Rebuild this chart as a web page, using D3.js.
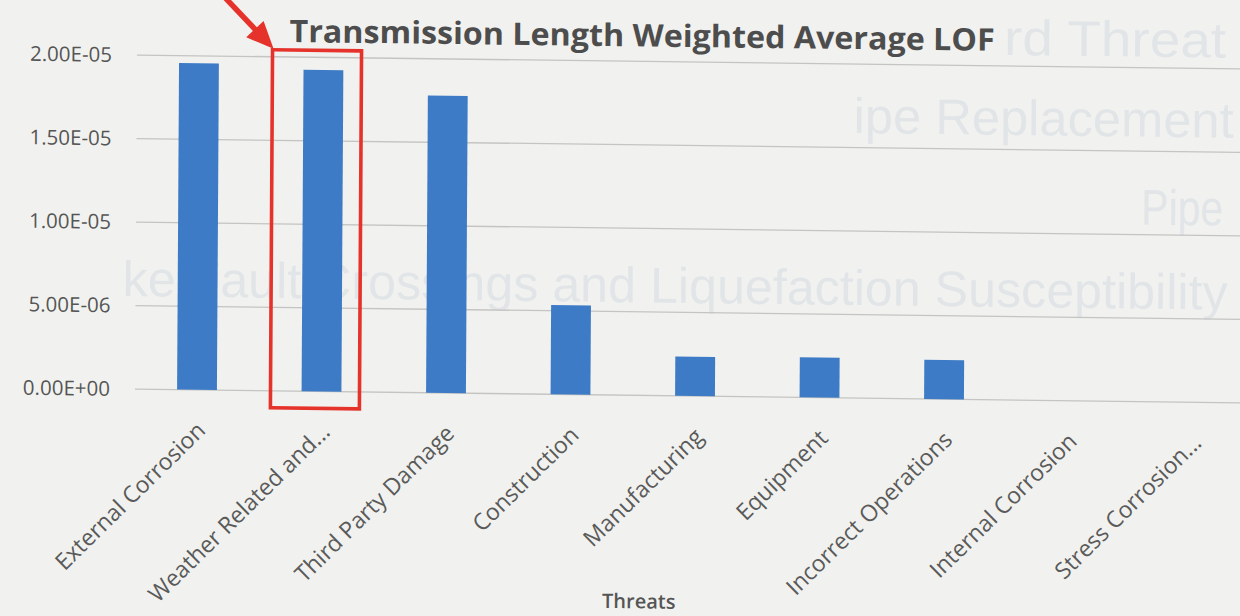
<!DOCTYPE html>
<html>
<head>
<meta charset="utf-8">
<script src="https://cdn.jsdelivr.net/npm/d3@7"></script>
<style>
  html, body { margin: 0; padding: 0; background: #f1f2ef; }
  svg { display: block; }
</style>
</head>
<body>
<svg id="chart" width="1240" height="616"></svg>
<script>
// Threat categories and their length-weighted average likelihood of failure
const categories = [
  "External Corrosion",
  "Weather Related and...",
  "Third Party Damage",
  "Construction",
  "Manufacturing",
  "Equipment",
  "Incorrect Operations",
  "Internal Corrosion",
  "Stress Corrosion..."
];
const lofValues = [1.955e-5, 1.925e-5, 1.78e-5, 5.35e-6, 2.35e-6, 2.4e-6, 2.35e-6, 0, 0];
const yTickValues = [0, 5e-6, 1e-5, 1.5e-5, 2e-5];
const highlighted = "Weather Related and...";

// Faint lines of text printed on the reverse of the sheet
const reverseLines = [
  { text: "rd Threat", x: 1002, y: 44, len: 222 },
  { text: "ipe Replacement", x: 852, y: 124, len: 380 },
  { text: "Pipe", x: 1140, y: 212, len: 82 },
  { text: "ke Fault Crossings and Liquefaction Susceptibility", x: 122, y: 296, len: 1105 }
];

const svg = d3.select("#chart");
const W = 1240, H = 616;

svg.append("rect").attr("width", W).attr("height", H).attr("fill", "#f1f2ef");

// the printed page sits slightly askew
const page = svg.append("g")
  .attr("transform", "translate(130,389) matrix(1,0.0125,-0.006,1,0,0) translate(-130,-389)");

page.append("g").selectAll("text")
  .data(reverseLines).join("text")
  .attr("x", d => d.x).attr("y", d => d.y)
  .attr("font-family", "Liberation Sans, Arial, sans-serif")
  .attr("font-size", 50)
  .attr("textLength", d => d.len)
  .attr("lengthAdjust", "spacingAndGlyphs")
  .attr("fill", "#e1e5e8")
  .text(d => d.text);

const x = d3.scaleBand()
  .domain(categories)
  .range([134.75, 1255.25])
  .paddingInner(0.68)
  .paddingOuter(0.34);

const y = d3.scaleLinear().domain([0, 2e-5]).range([389, 55]);

const fmtSci = v => {
  const [m, e] = v.toExponential(2).toUpperCase().split("E");
  const n = +e;
  return m + "E" + (n < 0 ? "-" : "+") + String(Math.abs(n)).padStart(2, "0");
};

// gridlines
page.append("g")
  .selectAll("line")
  .data(yTickValues).join("line")
  .attr("x1", 135).attr("x2", 1255)
  .attr("y1", d => y(d)).attr("y2", d => y(d))
  .attr("stroke", "#c4c4c2").attr("stroke-width", 1.3);

// y axis labels
const yAxis = d3.axisLeft(y).tickValues(yTickValues).tickFormat(fmtSci).tickSize(0).tickPadding(0);
const yg = page.append("g").attr("transform", "translate(110,0)").call(yAxis);
yg.select(".domain").remove();
yg.selectAll("text")
  .attr("font-family", "Open Sans, sans-serif")
  .attr("font-size", 20.5)
  .attr("fill", "#555555");

// bars
page.append("g").selectAll("rect")
  .data(categories.map((c, i) => ({ c, v: lofValues[i] })))
  .join("rect")
  .attr("x", d => x(d.c))
  .attr("width", x.bandwidth())
  .attr("y", d => y(d.v))
  .attr("height", d => y(0) - y(d.v))
  .attr("fill", "#3d7bc6");

// category labels
const xAxis = d3.axisBottom(x).tickSize(0).tickPadding(0);
const xg = page.append("g").attr("transform", `translate(0,${y(0)})`).call(xAxis);
xg.select(".domain").remove();
xg.selectAll(".tick text")
  .attr("font-family", "Open Sans, sans-serif")
  .attr("font-size", 23)
  .attr("fill", "#5a5a5a")
  .attr("text-anchor", "end")
  .attr("dy", null)
  .attr("transform", "translate(10,42) rotate(-45)");

// title
page.append("text")
  .attr("x", 640).attr("y", 40)
  .attr("text-anchor", "middle")
  .attr("font-family", "Open Sans, sans-serif")
  .attr("font-weight", 700)
  .attr("font-size", 31)
  .attr("textLength", 705)
  .attr("lengthAdjust", "spacingAndGlyphs")
  .attr("fill", "#4d4d4d")
  .text("Transmission Length Weighted Average LOF");

// axis title
page.append("text")
  .attr("x", 640).attr("y", 602)
  .attr("text-anchor", "middle")
  .attr("font-family", "Open Sans, sans-serif")
  .attr("font-weight", 600)
  .attr("font-size", 20)
  .attr("fill", "#555555")
  .text("Threats");

// red box and arrow around the highlighted threat
const cx = x(highlighted) + x.bandwidth() / 2;
const red = "#e5332b";
page.append("rect")
  .attr("x", cx - 51).attr("y", y(2e-5) - 7)
  .attr("width", 89).attr("height", 358)
  .attr("fill", "none").attr("stroke", red).attr("stroke-width", 3.6);

const tip = [cx - 50, y(2e-5) - 8];
const from = [tip[0] - 56, tip[1] - 58];
const len = Math.hypot(tip[0] - from[0], tip[1] - from[1]);
const ux = (tip[0] - from[0]) / len, uy = (tip[1] - from[1]) / len;
const head = 27, half = 12;
const bx = tip[0] - ux * head, by = tip[1] - uy * head;
page.append("line")
  .attr("x1", from[0]).attr("y1", from[1])
  .attr("x2", bx + ux * 2).attr("y2", by + uy * 2)
  .attr("stroke", red).attr("stroke-width", 5.5);
page.append("path")
  .attr("d", d3.line()([
    tip,
    [bx - uy * half, by + ux * half],
    [bx + uy * half, by - ux * half]
  ]) + "Z")
  .attr("fill", red);
</script>
</body>
</html>
